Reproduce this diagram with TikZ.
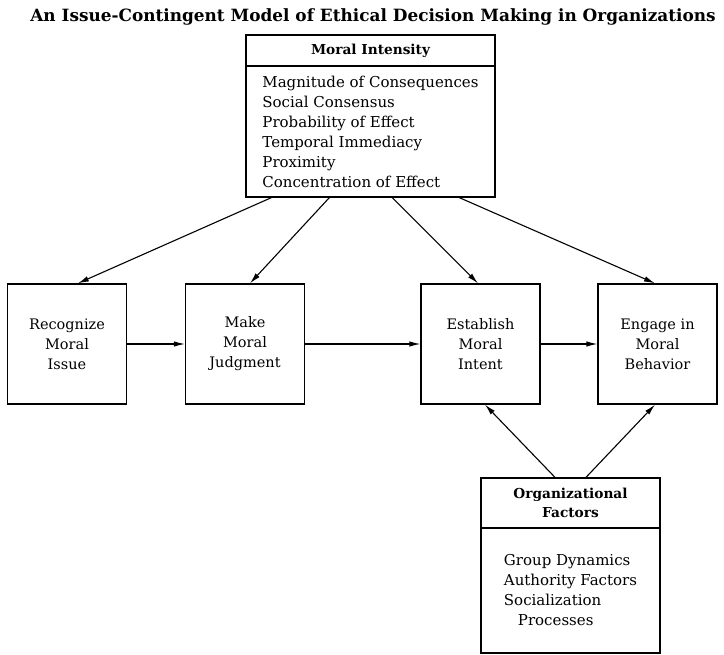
\documentclass[tikz,border=0pt]{standalone}
\usepackage{fontspec}
\setmainfont{DejaVu Serif}
\usetikzlibrary{arrows.meta}

\begin{document}
\begin{tikzpicture}
[every node/.style={inner sep=0pt},
 stepbox/.style={rectangle, draw=black, line width=1.3pt, minimum width=119pt, minimum height=120pt, align=center, font=\fontsize{14.5}{20}\selectfont},
 headbox/.style={rectangle, draw=black, line width=1.3pt, align=center, font=\bfseries\fontsize{13.7}{19}\selectfont},
 listbox/.style={rectangle, draw=black, line width=1.3pt, align=left, font=\fontsize{15}{20}\selectfont},
 link/.style={line width=1.1pt, -{Latex[length=11pt,width=5.5pt]}}]
\useasboundingbox (0pt,0pt) rectangle (724pt,-655pt);
\node (title) [font=\bfseries\fontsize{16.9}{20}\selectfont] at (373pt,-17pt) {An Issue-Contingent Model of Ethical Decision Making in Organizations};
\node (mihead) [headbox, minimum width=249pt, minimum height=31pt] at (370.5pt,-50.5pt) {Moral Intensity};
\node (milist) [listbox, minimum width=249pt, minimum height=131pt] at (370.5pt,-131.5pt) {Magnitude of Consequences\\Social Consensus\\Probability of Effect\\Temporal Immediacy\\Proximity\\Concentration of Effect};
\node (recognize) [stepbox] at (67pt,-344pt) {Recognize\\Moral\\Issue};
\node (judgment) [stepbox] at (245pt,-344pt) {Make\\Moral\\Judgment};
\node (intent) [stepbox] at (480.5pt,-344pt) {Establish\\Moral\\Intent};
\node (behavior) [stepbox] at (657.5pt,-344pt) {Engage in\\Moral\\Behavior};
\node (orghead) [headbox, minimum width=179pt, minimum height=50pt] at (570.5pt,-503pt) {Organizational\\Factors};
\node (orglist) [listbox, minimum width=179pt, minimum height=125pt] at (570.5pt,-590.5pt) {Group Dynamics\\Authority Factors\\Socialization\\\hspace*{14pt}Processes};
% moral intensity acts on every stage
\draw [link] ([xshift=26pt]milist.south west) -- ([xshift=71pt]recognize.north west);
\draw [link] ([xshift=84pt]milist.south west) -- ([xshift=5pt]judgment.north);
\draw [link] ([xshift=147pt]milist.south west) -- ([xshift=-2.5pt]intent.north);
\draw [link] ([xshift=214pt]milist.south west) -- ([xshift=-2.5pt]behavior.north);
% the four stages
\draw [link] (recognize) -- (judgment);
\draw [link] (judgment) -- (intent);
\draw [link] (intent) -- (behavior);
% organizational factors
\draw [link] ([xshift=-15.5pt]orghead.north) -- ([xshift=4.5pt]intent.south);
\draw [link] ([xshift=15.5pt]orghead.north) -- ([xshift=-2.5pt]behavior.south);
\end{tikzpicture}
\end{document}
